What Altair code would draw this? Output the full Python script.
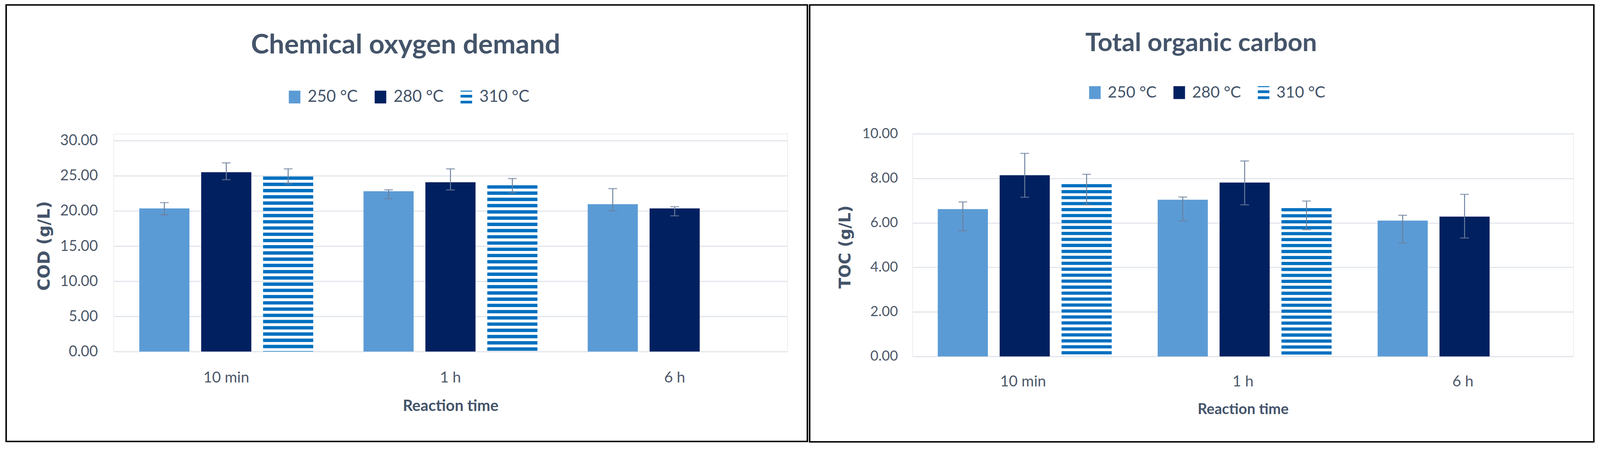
import altair as alt
import pandas as pd

# ---------------- data ----------------
times = ["10 min", "1 h", "6 h"]
temps = ["250 °C", "280 °C", "310 °C"]

# Chemical oxygen demand (g/L)
cod_250 = [20.35, 22.80, 20.95]
cod_280 = [25.50, 24.07, 20.35]
cod_310 = [24.90, 23.65, None]
cod_250_plus = [0.83, 0.19, 2.22]
cod_250_minus = [0.91, 1.06, 0.92]
cod_280_plus = [1.33, 1.91, 0.24]
cod_280_minus = [1.06, 1.09, 1.05]
cod_310_plus = [1.08, 0.95, None]
cod_310_minus = [1.04, 1.07, None]

# Total organic carbon (g/L)
toc_250 = [6.62, 7.04, 6.10]
toc_280 = [8.14, 7.81, 6.28]
toc_310 = [7.74, 6.66, None]
toc_250_plus = [0.32, 0.12, 0.24]
toc_250_minus = [0.97, 0.95, 1.00]
toc_280_plus = [0.98, 0.97, 1.00]
toc_280_minus = [0.99, 1.00, 0.96]
toc_310_plus = [0.44, 0.32, None]
toc_310_minus = [0.93, 0.97, None]

titles = ["Chemical oxygen demand", "Total organic carbon"]
y_titles = ["COD (g/L)", "TOC (g/L)"]
x_title = "Reaction time"

# ---------------- style ----------------
C250, C280, C310 = "#5B9BD5", "#002060", "#0070C0"
ERR = "#6B7F9C"
GRID = "#E1E5EB"
TXT = "#44546A"
TICK = "#4D5869"
FONT = "Lato"
WIDE = "DejaVu Sans"

SQ = "M-0.9,-1H0.9V1H-0.9Z"
STRIPED = "M-0.9,-1H0.9V-0.85H-0.9Z M-0.9,-0.35H0.9V0.08H-0.9Z M-0.9,0.58H0.9V1H-0.9Z"


def build_frames(v250, v280, v310, p250, m250, p280, m280, p310, m310, period, thick):
    rows = []
    for temp, vals, plus, minus in [("250 °C", v250, p250, m250),
                                    ("280 °C", v280, p280, m280),
                                    ("310 °C", v310, p310, m310)]:
        for t, v, p, m in zip(times, vals, plus, minus):
            if v is None:
                continue
            rows.append({"time": t, "temp": temp, "value": v, "lo": v - m, "hi": v + p})
    df = pd.DataFrame(rows)
    # horizontal-stripe pattern fill of the 310 °C bars (anchored at bar top)
    srows = []
    for t, v in zip(times, v310):
        if v is None:
            continue
        k = 0
        while v - k * period > 0:
            top = v - k * period
            srows.append({"time": t, "temp": "310 °C", "s0": top, "s1": max(top - thick, 0)})
            k += 1
    return df, pd.DataFrame(srows)


def panel(df, sdf, title, ytitle, ymax, ystep, width, height, yrange,
          frame, title_pos, title_size, legend_pos, legend_font,
          tick_font, cat_font, cat_pad, xtitle_font, xtitle_y, ytitle_font, ytitle_xy, label_pad):
    x_enc = alt.X("time:N", sort=times, scale=alt.Scale(domain=times, paddingInner=0.2243, paddingOuter=0.1147),
                  axis=alt.Axis(title=x_title, labelFont=FONT, labelFontSize=cat_font, labelColor=TICK,
                                labelAngle=0, labelPadding=cat_pad, ticks=False, tickSize=0, domain=False,
                                grid=False, titleFont=FONT, titleFontSize=xtitle_font, titleFontWeight="bold",
                                titleColor=TXT, titleBaseline="alphabetic", titleY=xtitle_y))
    xo_enc = alt.XOffset("temp:N", sort=temps, scale=alt.Scale(domain=temps, paddingInner=0.19, paddingOuter=0))
    if yrange:
        yscale = alt.Scale(domain=[0, ymax], nice=False, zero=True, range=yrange)
    else:
        yscale = alt.Scale(domain=[0, ymax], nice=False, zero=True)
    yaxis = alt.Axis(values=list(range(0, ymax + 1, ystep)), format=".2f", labelFont=FONT,
                     labelFontSize=tick_font, labelColor=TICK, labelPadding=label_pad, ticks=False, tickSize=0,
                     domain=False, grid=True, gridColor=GRID, gridWidth=3,
                     titleFont=WIDE, titleFontSize=ytitle_font, titleFontWeight="bold", titleColor=TXT,
                     titleAngle=270, titleX=ytitle_xy[0], titleY=ytitle_xy[1], titleBaseline="middle",
                     titleAlign="center")

    base = alt.Chart(df)
    bars = base.transform_filter(alt.datum.temp != "310 °C").mark_bar().encode(
        x=x_enc, xOffset=xo_enc,
        y=alt.Y("value:Q", scale=yscale, axis=yaxis, title=ytitle),
        color=alt.Color("temp:N", scale=alt.Scale(domain=temps[:2], range=[C250, C280]), legend=None),
    )
    stripes = alt.Chart(sdf).mark_bar(color=C310).encode(
        x=x_enc, xOffset=xo_enc,
        y=alt.Y("s0:Q", scale=yscale, axis=yaxis, title=ytitle),
        y2="s1:Q",
    )
    rules = base.mark_rule(color=ERR, strokeWidth=2.5).encode(
        x=x_enc, xOffset=xo_enc,
        y=alt.Y("lo:Q", scale=yscale, axis=yaxis, title=ytitle),
        y2="hi:Q",
    )
    cap_hi = base.mark_tick(color=ERR, size=23, thickness=3, orient="horizontal").encode(
        x=x_enc, xOffset=xo_enc, y=alt.Y("hi:Q", scale=yscale, axis=yaxis, title=ytitle))
    cap_lo = base.mark_tick(color=ERR, size=23, thickness=3, orient="horizontal").encode(
        x=x_enc, xOffset=xo_enc, y=alt.Y("lo:Q", scale=yscale, axis=yaxis, title=ytitle))

    leg = alt.Legend(orient="none", legendX=legend_pos[0], legendY=legend_pos[1], direction="horizontal",
                     columns=3, title=None, symbolSize=1156, symbolStrokeWidth=0, symbolOpacity=1,
                     labelFont=FONT, labelFontSize=legend_font, labelColor=TXT, labelOffset=13,
                     labelLimit=400, columnPadding=38, padding=0)
    legend_layer = base.transform_filter("false").mark_point(filled=True, opacity=1).encode(
        fill=alt.Fill("temp:N", scale=alt.Scale(domain=temps, range=[C250, C280, C310]), legend=leg),
        shape=alt.Shape("temp:N", scale=alt.Scale(domain=temps, range=[SQ, SQ, STRIPED]), legend=leg),
    )

    frame_layer = alt.Chart(alt.Data(values=[{}])).mark_rect(
        fill="transparent", stroke="black", strokeWidth=4, clip=False).encode(
        x=alt.value(frame[0]), x2=alt.value(frame[1]), y=alt.value(frame[2]), y2=alt.value(frame[3]))
    title_layer = alt.Chart(alt.Data(values=[{}])).mark_text(
        text=title, font=FONT, fontSize=title_size, fontWeight="bold", color=TXT,
        align="center", baseline="alphabetic", clip=False).encode(
        x=alt.value(title_pos[0]), y=alt.value(title_pos[1]))

    return alt.layer(frame_layer, title_layer, bars, stripes, rules, cap_hi, cap_lo, legend_layer).properties(
        width=width, height=height)


cod_df, cod_s = build_frames(cod_250, cod_280, cod_310, cod_250_plus, cod_250_minus,
                             cod_280_plus, cod_280_minus, cod_310_plus, cod_310_minus, 0.887, 0.48)
toc_df, toc_s = build_frames(toc_250, toc_280, toc_310, toc_250_plus, toc_250_minus,
                             toc_280_plus, toc_280_minus, toc_310_plus, toc_310_minus, 0.268, 0.145)

# both views start at page y≈356; the COD scale is drawn from 18 px below that
left = panel(cod_df, cod_s, titles[0], y_titles[0], 30, 5, 1781, 576, [576, 18],
             frame=(-284, 1834, -341, 814), title_pos=(772, -213), title_size=72,
             legend_pos=(457, -119), legend_font=43, tick_font=39, cat_font=40, cat_pad=49,
             xtitle_font=41, xtitle_y=157, ytitle_font=44, ytitle_xy=(-183, 296), label_pad=42)
right = panel(toc_df, toc_s, titles[1], y_titles[1], 10, 2, 1747, 589, None,
              frame=(-272, 1801, -341, 815), title_pos=(763, -219), title_size=68,
              legend_pos=(461, -130), legend_font=42, tick_font=37, cat_font=40, cat_pad=47,
              xtitle_font=39, xtitle_y=152, ytitle_font=42, ytitle_xy=(-178, 299), label_pad=39)

chart = alt.hconcat(left, right, spacing=0).resolve_scale(
    x="independent", y="independent", color="independent", fill="independent", shape="independent"
).properties(
    padding={"left": 5, "top": -17, "right": 5, "bottom": 5}
).configure_view(stroke=None).configure(background="white")

chart.save("out.html", embed_options={"renderer": "svg", "actions": False})
